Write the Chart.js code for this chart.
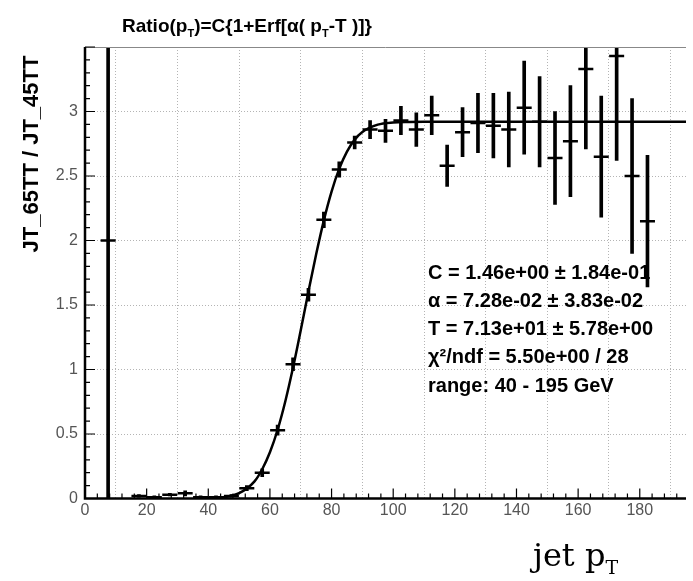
<!DOCTYPE html>
<html>
<head>
<meta charset="utf-8">
<script src="https://cdn.jsdelivr.net/npm/chart.js@4"></script>
<style>
  html, body { margin: 0; padding: 0; background: #fff; overflow: hidden; }
  canvas { display: block; }
</style>
</head>
<body>
<canvas id="ratio" width="696" height="581"></canvas>
<script>
//------------------------------------------------------------------------------
// data
//------------------------------------------------------------------------------
var binX = [7.5, 17.5, 22.5, 27.5, 32.5, 37.5, 42.5, 47.5, 52.5, 57.5,
            62.5, 67.5, 72.5, 77.5, 82.5, 87.5, 92.5, 97.5, 102.5, 107.5,
            112.5, 117.5, 122.5, 127.5, 132.5, 137.5, 142.5, 147.5, 152.5, 157.5,
            162.5, 167.5, 172.5, 177.5, 182.5];
var ratio = [2.00, 0.02, 0.01, 0.03, 0.04, 0.01, 0.01, 0.02, 0.08, 0.20,
             0.53, 1.04, 1.58, 2.16, 2.55, 2.76, 2.86, 2.85, 2.93, 2.86,
             2.97, 2.58, 2.84, 2.91, 2.89, 2.86, 3.03, 2.92, 2.64, 2.77,
             3.33, 2.65, 3.43, 2.50, 2.15];
var ratioErr = [2.50, 0.01, 0.01, 0.01, 0.02, 0.01, 0.01, 0.01, 0.02, 0.03,
                0.04, 0.05, 0.05, 0.06, 0.06, 0.05, 0.07, 0.09, 0.11, 0.13,
                0.15, 0.16, 0.19, 0.23, 0.25, 0.29, 0.36, 0.35, 0.36, 0.43,
                0.62, 0.47, 0.81, 0.60, 0.51];

// fitted curve, sampled along the drawn line
var fitX = [40, 45, 50, 55, 57.5, 60, 62.5, 65, 67.5, 70, 72.5, 75, 77.5,
            80, 82.5, 85, 87.5, 90, 95, 100, 105, 110, 195];
var fitY = [0.002, 0.009, 0.041, 0.133, 0.227, 0.358, 0.533, 0.754, 1.015, 1.305, 1.604, 1.893, 2.156,
            2.379, 2.557, 2.689, 2.782, 2.841, 2.898, 2.915, 2.919, 2.92, 2.92];

var xTickValues = [0, 20, 40, 60, 80, 100, 120, 140, 160, 180];
var yTickValues = [0, 0.5, 1, 1.5, 2, 2.5, 3];

var fitInfo = ["C = 1.46e+00 \u00b1 1.84e-01",
               "\u03b1 = 7.28e-02 \u00b1 3.83e-02",
               "T = 7.13e+01 \u00b1 5.78e+00",
               "\u03c7\u00b2/ndf = 5.50e+00 / 28",
               "range: 40 - 195 GeV"];

var sans = "'Liberation Sans', Arial, sans-serif";

//------------------------------------------------------------------------------
// text with subscripts: parts = [[text, isSub], ...]
//------------------------------------------------------------------------------
function richText(ctx, parts, x, y, size, weight, family) {
  parts.forEach(function(p) {
    var s = p[1] ? Math.round(size * 0.6) : size;
    ctx.font = weight + " " + s + "px " + family;
    ctx.fillText(p[0], x, p[1] ? y + size * 0.25 : y);
    x += ctx.measureText(p[0]).width;
  });
}

var rootLook = {
  id: 'rootLook',
  afterDraw: function(chart) {
    var ctx = chart.ctx, a = chart.chartArea;
    var xs = chart.scales.x, ys = chart.scales.y;
    ctx.save();

    // frame
    ctx.strokeStyle = '#888'; ctx.lineWidth = 1;
    ctx.beginPath(); ctx.moveTo(a.left, a.top + 0.5); ctx.lineTo(a.right, a.top + 0.5); ctx.stroke();
    ctx.strokeStyle = '#000'; ctx.lineWidth = 2.5;
    ctx.beginPath();
    ctx.moveTo(a.left, a.top); ctx.lineTo(a.left, a.bottom); ctx.lineTo(a.right, a.bottom);
    ctx.stroke();

    // inward ticks, major and minor
    ctx.lineWidth = 1.2;
    ctx.beginPath();
    for (var i = 0; i <= 35; i++) {
      var py = ys.getPixelForValue(i / 10);
      var len = (i % 5 === 0) ? 10 : 5;
      ctx.moveTo(a.left, py); ctx.lineTo(a.left + len, py);
    }
    for (var j = 0; j <= 48; j++) {
      var px = xs.getPixelForValue(j * 4);
      var lx = (j % 5 === 0) ? 10 : 5;
      ctx.moveTo(px, a.bottom); ctx.lineTo(px, a.bottom - lx);
    }
    ctx.stroke();

    ctx.fillStyle = '#000';
    ctx.textAlign = 'left';
    ctx.textBaseline = 'alphabetic';

    // title
    richText(ctx, [["Ratio(p", 0], ["T", 1], [")=C{1+Erf[\u03b1( p", 0], ["T", 1], ["-T )]}", 0]],
             122, 32, 19, 'bold', sans);

    // fit results
    ctx.font = "bold 20px " + sans;
    ctx.textBaseline = 'middle';
    fitInfo.forEach(function(t, k) {
      ctx.fillText(t, 428, 273 + k * 28.3);
    });

    // x title
    ctx.textBaseline = 'alphabetic';
    richText(ctx, [["jet p", 0], ["T", 1]], 533, 566, 32, 'normal', "'DejaVu Serif', serif");

    // y title
    ctx.translate(38, 154);
    ctx.rotate(-Math.PI / 2);
    ctx.textAlign = 'center';
    ctx.font = "bold 22px " + sans;
    ctx.fillText("JT_65TT / JT_45TT", 0, 0);

    ctx.restore();
  }
};

//------------------------------------------------------------------------------
var ctx = document.getElementById("ratio");
var chart = new Chart(ctx, {
  type: 'scatter',
  data: {
    datasets: [{
      type: 'line',
      label: 'fit',
      data: fitX.map(function(x, i) { return {x: x, y: fitY[i]}; }),
      borderColor: '#000',
      borderWidth: 2.5,
      pointRadius: 0,
      cubicInterpolationMode: 'monotone',
      fill: false
    }, {
      type: 'bar',
      label: 'errors',
      data: binX.map(function(x, i) { return {x: x, y: [ratio[i] - ratioErr[i], ratio[i] + ratioErr[i]]}; }),
      backgroundColor: '#000',
      borderWidth: 0,
      barThickness: 3,
      grouped: false
    }, {
      type: 'scatter',
      label: 'ratio',
      data: binX.map(function(x, i) { return {x: x, y: ratio[i]}; }),
      pointStyle: 'line',
      pointRadius: 7.5,
      borderColor: '#000',
      borderWidth: 2.5
    }]
  },
  options: {
    responsive: false,
    animation: false,
    events: [],
    devicePixelRatio: 1,
    layout: { padding: { top: 47, left: 0, right: 1, bottom: 0 } },
    plugins: { legend: { display: false }, tooltip: { enabled: false } },
    scales: {
      x: {
        type: 'linear', min: 0, max: 195, offset: false,
        afterBuildTicks: function(s) { s.ticks = xTickValues.map(function(v) { return {value: v}; }); },
        afterFit: function(s) { s.height = 82.5; },
        grid: { color: '#b4b4b4', lineWidth: 1, drawTicks: false },
        border: { display: false, dash: [1, 2] },
        ticks: { color: '#555', font: { family: sans, size: 16 }, padding: 2, maxRotation: 0,
                 callback: function(v) { return String(v); } }
      },
      y: {
        type: 'linear', min: 0, max: 3.5,
        afterBuildTicks: function(s) { s.ticks = yTickValues.map(function(v) { return {value: v}; }); },
        afterFit: function(s) { s.width = 85; },
        grid: { color: '#b4b4b4', lineWidth: 1, drawTicks: false },
        border: { display: false, dash: [1, 2] },
        ticks: { color: '#555', font: { family: sans, size: 16 }, padding: 7,
                 callback: function(v) { return String(v); } }
      }
    }
  },
  plugins: [rootLook]
});
</script>
</body>
</html>
